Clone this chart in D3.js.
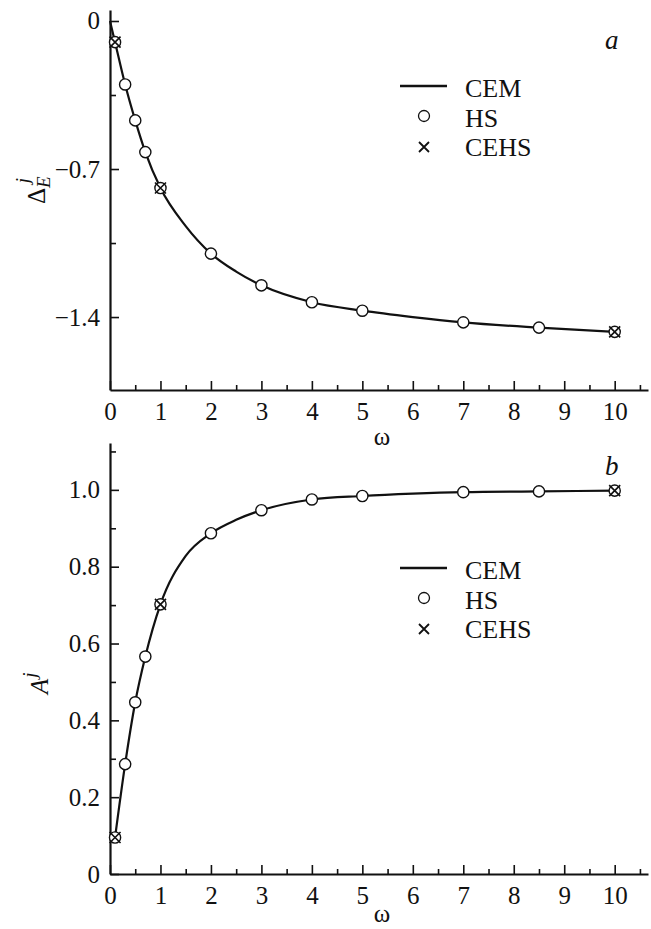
<!DOCTYPE html>
<html>
<head>
<meta charset="utf-8">
<title>CEM / HS / CEHS</title>
<script src="https://d3js.org/d3.v7.min.js"></script>
<style>
  body { margin: 0; background: #fff; }
</style>
</head>
<body>
<svg id="chart" width="651" height="929"></svg>
<script>
// ---- data ----
var omegaHS   = [0.1, 0.3, 0.5, 0.7, 1, 2, 3, 4, 5, 7, 8.5, 10];
var deltaHS   = [-0.10, -0.30, -0.47, -0.62, -0.79, -1.10, -1.25, -1.33, -1.37, -1.425, -1.45, -1.47];
var ampHS     = [0.095, 0.286, 0.447, 0.566, 0.702, 0.887, 0.947, 0.975, 0.984, 0.994, 0.996, 0.998];

var omegaCEHS = [0.1, 1, 10];
var deltaCEHS = [-0.10, -0.79, -1.47];
var ampCEHS   = [0.095, 0.702, 0.998];

var omegaCEMa = [0, 0.1, 0.3, 0.5, 0.7, 1, 1.5, 2, 2.5, 3, 4, 5, 6, 7, 8.5, 10];
var deltaCEM  = [0, -0.10, -0.30, -0.47, -0.62, -0.79, -0.97, -1.10, -1.185, -1.25, -1.33, -1.37, -1.40, -1.425, -1.45, -1.47];
var omegaCEMb = [0.1, 0.3, 0.5, 0.7, 1, 1.5, 2, 2.5, 3, 4, 5, 6, 7, 8.5, 10];
var ampCEM    = [0.095, 0.286, 0.447, 0.566, 0.702, 0.828, 0.887, 0.922, 0.947, 0.975, 0.984, 0.990, 0.994, 0.996, 0.998];

var xMajor  = [0, 1, 2, 3, 4, 5, 6, 7, 8, 9, 10];
var xMinor  = [0.5, 1.5, 2.5, 3.5, 4.5, 5.5, 6.5, 7.5, 8.5, 9.5, 10.5];
var yMajorA = [0, -0.7, -1.4];
var yMinorA = [-0.35, -1.05];
var yMajorB = [0, 0.2, 0.4, 0.6, 0.8, 1.0];
var yMinorB = [0.1, 0.3, 0.5, 0.7, 0.9, 1.1];
var legendNames = ["CEM", "HS", "CEHS"];

var SERIF = "Liberation Serif";
var INK = "#111";

var svg = d3.select("#chart").attr("font-family", SERIF);
svg.append("rect").attr("width", 651).attr("height", 929).attr("fill", "#fff");

function txt(sel, size) {
  return sel.attr("font-family", SERIF).attr("font-size", size).attr("fill", INK);
}

function panel(opt) {
  var x = d3.scaleLinear().domain([0, 10.66]).range([110, 648]);
  var y = d3.scaleLinear().domain(opt.ydom).range([opt.y0, opt.y1]);
  var g = svg.append("g");

  // minor ticks
  g.append("g").attr("transform", "translate(0," + opt.y0 + ")")
    .call(d3.axisBottom(x).tickValues(xMinor).tickSizeInner(-5).tickSizeOuter(0).tickFormat(""))
    .call(s => s.select(".domain").remove());
  g.append("g").attr("transform", "translate(110,0)")
    .call(d3.axisLeft(y).tickValues(opt.minor).tickSizeInner(-6).tickSizeOuter(0).tickFormat(""))
    .call(s => s.select(".domain").remove());

  // major ticks + labels
  var ax = g.append("g").attr("transform", "translate(0," + opt.y0 + ")")
    .call(d3.axisBottom(x).tickValues(xMajor).tickSizeInner(-9).tickSizeOuter(0).tickPadding(12).tickFormat(d3.format("d")));
  var ay = g.append("g").attr("transform", "translate(110,0)")
    .call(d3.axisLeft(y).tickValues(opt.major).tickSizeInner(-9).tickSizeOuter(0).tickPadding(10).tickFormat(opt.fmt));
  [ax, ay].forEach(function (a) {
    txt(a, 25);
    txt(a.selectAll("text"), 25);
    a.select(".domain").attr("stroke", INK).attr("stroke-width", 2.2);
  });
  g.selectAll(".tick line").attr("stroke", INK).attr("stroke-width", 1.6);

  // CEM curve
  var line = d3.line().x(d => x(d[0])).y(d => y(d[1])).curve(d3.curveMonotoneX);
  g.append("path")
    .attr("d", line(d3.zip(opt.cemX, opt.cemY)))
    .attr("fill", "none").attr("stroke", INK).attr("stroke-width", 2.2);

  // HS circles
  g.selectAll(".hs").data(d3.zip(omegaHS, opt.hs)).join("circle")
    .attr("cx", d => x(d[0])).attr("cy", d => y(d[1])).attr("r", 5.6)
    .attr("fill", "#fff").attr("stroke", INK).attr("stroke-width", 1.4);

  // CEHS crosses
  g.selectAll(".cehs").data(d3.zip(omegaCEHS, opt.cehs)).join("path")
    .attr("transform", d => "translate(" + x(d[0]) + "," + y(d[1]) + ")")
    .attr("d", "M-5.5,-5.5L5.5,5.5M-5.5,5.5L5.5,-5.5")
    .attr("stroke", INK).attr("stroke-width", 1.6);

  // axis title omega
  txt(g.append("text").attr("x", 382).attr("y", opt.y0 + opt.omegaDy)
    .attr("text-anchor", "middle"), 25).text("ω");

  // panel letter
  txt(g.append("text").attr("x", 605).attr("y", opt.letterY), 27)
    .attr("font-style", "italic").text(opt.letter);

  // legend
  var lg = g.append("g");
  var ly = opt.legendY;
  lg.append("line").attr("x1", 400).attr("x2", 447).attr("y1", ly).attr("y2", ly)
    .attr("stroke", INK).attr("stroke-width", 2.4);
  lg.append("circle").attr("cx", 424).attr("cy", ly + 30).attr("r", 5.5)
    .attr("fill", "#fff").attr("stroke", INK).attr("stroke-width", 1.3);
  lg.append("path").attr("transform", "translate(424," + (ly + 61) + ")")
    .attr("d", "M-5,-5L5,5M-5,5L5,-5").attr("stroke", INK).attr("stroke-width", 1.8);
  txt(lg.selectAll(".lt").data(legendNames).join("text")
    .attr("x", 465).attr("y", (d, i) => ly + 11 + i * 29.5), 26)
    .text(d => d);

  return g;
}

panel({
  ydom: [-1.745, 0.052], y0: 390, y1: 10,
  major: yMajorA, minor: yMinorA,
  fmt: d => d === 0 ? "0" : "\u2212" + Math.abs(d).toFixed(1),
  cemX: omegaCEMa, cemY: deltaCEM, hs: deltaHS, cehs: deltaCEHS,
  omegaDy: 55, letter: "a", letterY: 49, legendY: 86
});
panel({
  ydom: [0, 1.122], y0: 874, y1: 443,
  major: yMajorB, minor: yMinorB,
  fmt: d => d === 0 ? "0" : d.toFixed(1),
  cemX: omegaCEMb, cemY: ampCEM, hs: ampHS, cehs: ampCEHS,
  omegaDy: 48, letter: "b", letterY: 475, legendY: 568
});

// y axis titles
var ta = txt(svg.append("text").attr("transform", "translate(45,204) rotate(-90)"), 25);
ta.append("tspan").text("Δ");
ta.append("tspan").attr("dy", 5).attr("font-size", 19).attr("font-style", "italic").text("E");
ta.append("tspan").attr("dx", -7).attr("dy", -21).attr("font-size", 19).attr("font-style", "italic").text("j");

var tb = txt(svg.append("text").attr("transform", "translate(48,694) rotate(-90)"), 25);
tb.append("tspan").attr("font-style", "italic").text("A");
tb.append("tspan").attr("dx", 1).attr("dy", -12).attr("font-size", 19).attr("font-style", "italic").text("j");
</script>
</body>
</html>
